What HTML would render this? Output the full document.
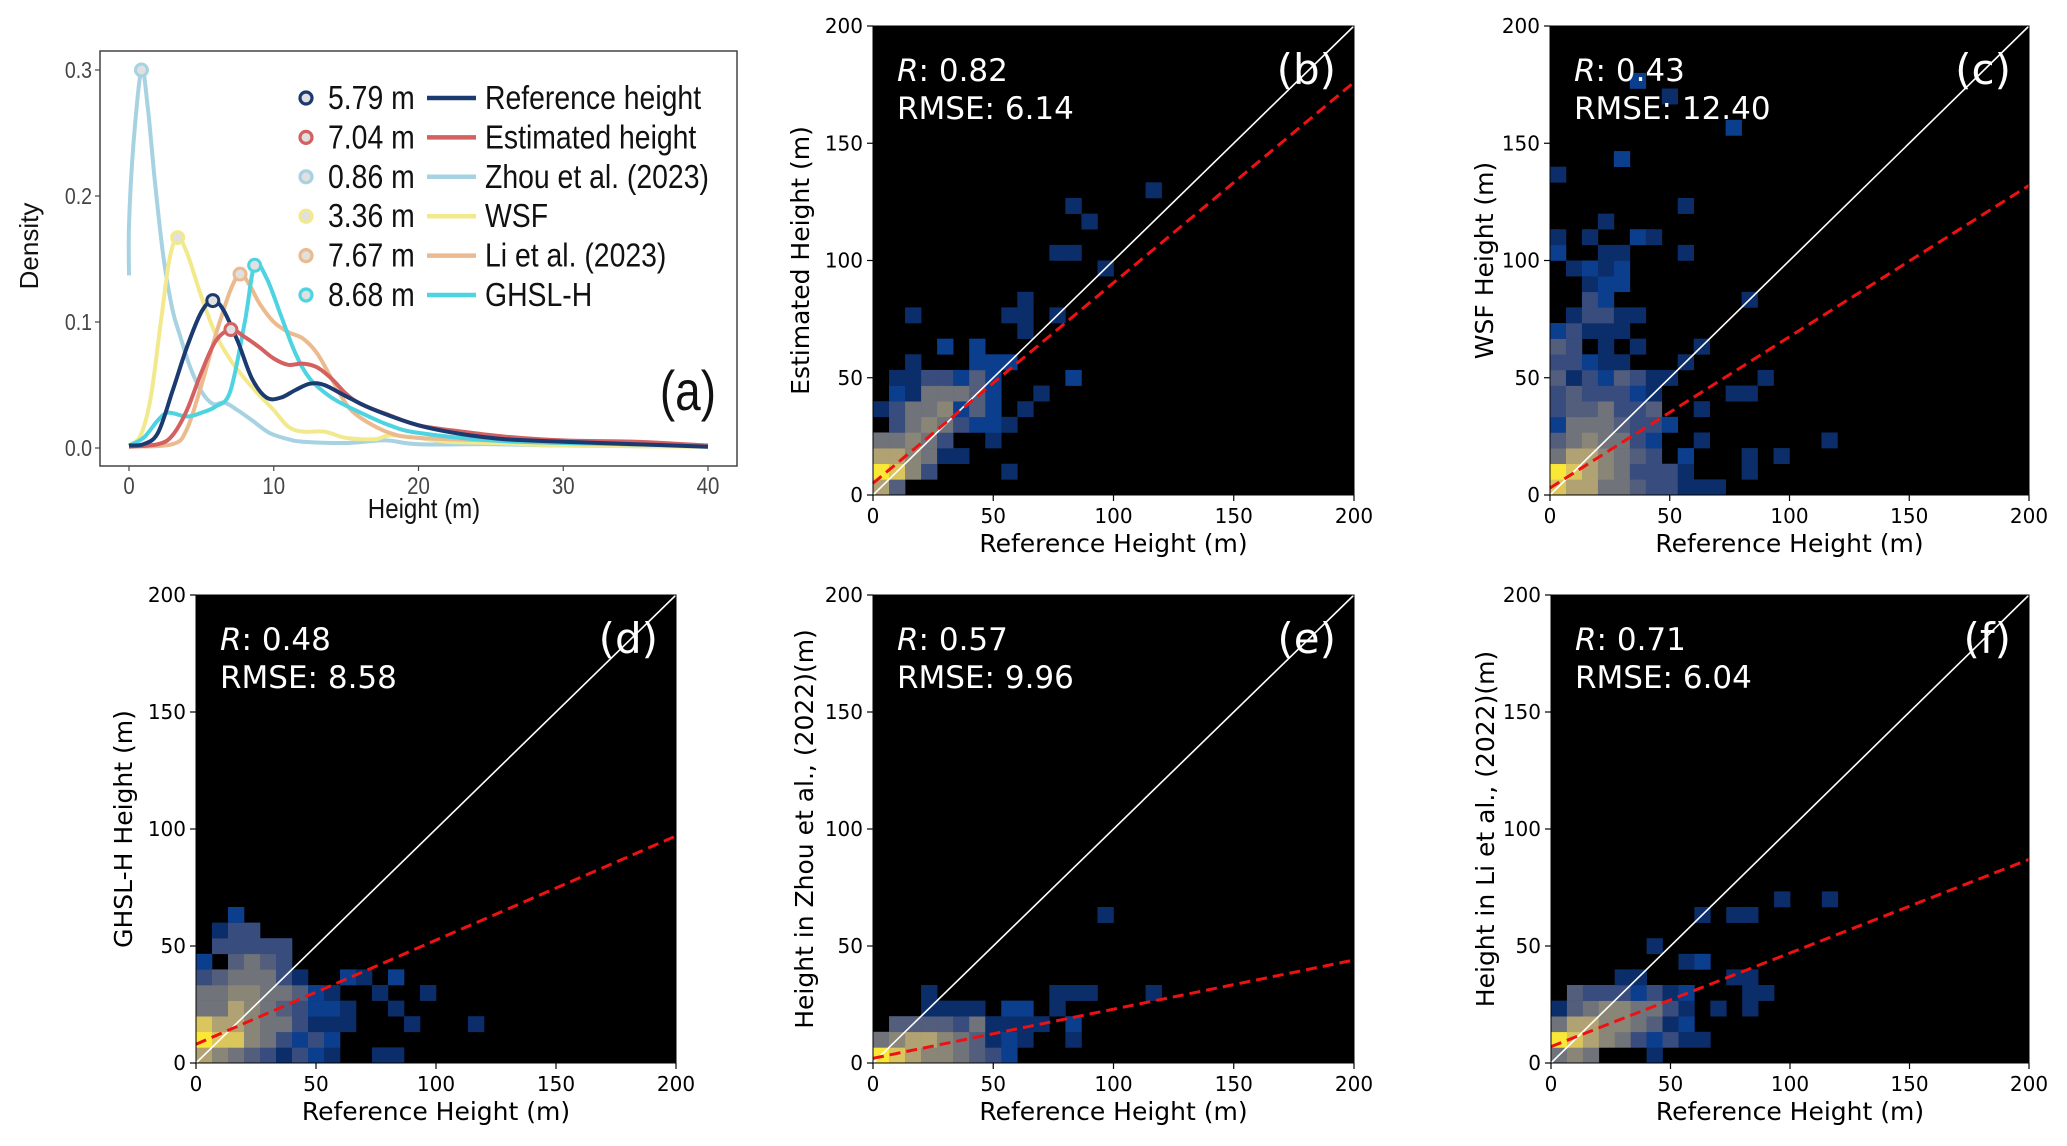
<!DOCTYPE html>
<html><head><meta charset="utf-8"><style>
html,body{margin:0;padding:0;background:#fff;}
svg{display:block;}
.mpl{font-family:"DejaVu Sans","Liberation Sans",sans-serif;}
.narrow{font-family:"Liberation Sans",sans-serif;}
</style></head><body>
<svg id="fig" width="2067" height="1146" viewBox="0 0 2067 1146" xmlns="http://www.w3.org/2000/svg"></svg>
<script>
// ---------- Panel (a) density data ----------
const refX = [0,1,2,3,4,5,5.79,6.5,7.5,8.5,9.5,10.5,11.5,12.5,13.5,15,17,20,23,26,30,35,40];
const refY = [0.002,0.003,0.012,0.045,0.08,0.108,0.117,0.11,0.085,0.055,0.04,0.04,0.046,0.051,0.05,0.041,0.03,0.018,0.011,0.007,0.005,0.003,0.001];
const estX = [0,2,3,4,5,6,7.04,8,9,10,11,12,13,14,15,16,18,20,23,26,30,35,40];
const estY = [0.001,0.003,0.01,0.03,0.06,0.085,0.094,0.088,0.08,0.071,0.066,0.067,0.064,0.055,0.043,0.035,0.026,0.018,0.013,0.009,0.006,0.005,0.002];
const zhouX = [0,0,0.3,0.86,1.3,1.8,2.4,3,3.5,4.2,5,5.8,6.6,7.5,8.5,9.7,11,12,15,17.7,20,25,30,40];
const zhouY = [0.137,0.177,0.24,0.3,0.27,0.21,0.15,0.11,0.09,0.065,0.045,0.035,0.036,0.03,0.022,0.012,0.007,0.005,0.004,0.006,0.003,0.003,0.002,0.001];
const wsfX = [0,0.8,1.5,2.2,2.8,3.36,4,5,6,7,8,9,10,11,12,13.5,15,17,18,20,22,25,30,40];
const wsfY = [0.002,0.01,0.04,0.1,0.15,0.167,0.155,0.12,0.09,0.07,0.055,0.042,0.03,0.017,0.013,0.013,0.008,0.007,0.01,0.008,0.005,0.004,0.002,0.001];
const liX = [0,3,4,5,6,7,7.67,8.3,9,10,11,12,13,14,15,16,18,20,25,30,40];
const liY = [0.001,0.003,0.015,0.05,0.09,0.125,0.138,0.13,0.115,0.1,0.092,0.087,0.075,0.055,0.035,0.024,0.012,0.008,0.006,0.004,0.002];
const ghslX = [0,1,2,2.7,4,5,6,7,8,8.68,9.5,10.5,11.5,12.5,14,16,18,20,25,30,40];
const ghslY = [0.002,0.008,0.022,0.028,0.025,0.028,0.033,0.045,0.1,0.145,0.135,0.105,0.075,0.055,0.04,0.028,0.018,0.012,0.006,0.004,0.002];
const peakX = [5.79,7.04,0.86,3.36,7.67,8.68];
const peakY = [0.117,0.094,0.3,0.167,0.138,0.145];
const peakLabels = ["5.79 m","7.04 m","0.86 m","3.36 m","7.67 m","8.68 m"];
const seriesNames = ["Reference height","Estimated height","Zhou et al. (2023)","WSF","Li et al. (2023)","GHSL-H"];
const densTicksX = [0,10,20,30,40];
const densTicksY = [0,0.1,0.2,0.3];

// ---------- Scatter panels data (2D histogram bins: [col,row,density 0-1], bin = 200/30) ----------
const N=0.05,B=0.15,BG=0.3,GB=0.38,G=0.48,GT=0.58,T=0.72,Y=0.86,YY=1;
const cellsB = [[0,0,T],[1,0,GB],
 [0,1,YY],[1,1,Y],[2,1,GT],[3,1,BG],[8,1,N],
 [0,2,T],[1,2,T],[2,2,GT],[3,2,G],[4,2,N],[5,2,N],
 [0,3,G],[1,3,G],[2,3,GT],[3,3,G],[4,3,BG],[7,3,N],
 [1,4,BG],[2,4,G],[3,4,GT],[4,4,G],[5,4,BG],[6,4,B],[7,4,B],[8,4,N],
 [0,5,N],[1,5,BG],[2,5,G],[3,5,G],[4,5,GT],[5,5,B],[6,5,GB],[7,5,B],[9,5,N],
 [1,6,B],[2,6,N],[3,6,G],[4,6,G],[5,6,G],[6,6,GB],[7,6,B],[10,6,N],
 [1,7,N],[2,7,N],[3,7,BG],[4,7,BG],[5,7,B],[6,7,GB],[7,7,B],[12,7,B],
 [2,8,N],[6,8,B],[7,8,B],[8,8,B],[4,9,B],[6,9,B],[9,10,N],
 [2,11,N],[8,11,N],[9,11,N],[11,11,N],[9,12,N],[14,14,N],[11,15,N],[12,15,N],[13,17,N],[12,18,N],[17,19,N]];
const cellsC = [[0,0,Y],[1,0,T],[2,0,T],[3,0,G],[4,0,G],[5,0,GB],[6,0,BG],[7,0,BG],[8,0,N],[9,0,N],[10,0,N],
 [0,1,YY],[1,1,Y],[2,1,T],[3,1,GT],[4,1,G],[5,1,BG],[6,1,BG],[7,1,BG],[8,1,N],[12,1,N],
 [0,2,G],[1,2,T],[2,2,T],[3,2,GT],[4,2,G],[5,2,GB],[6,2,BG],[8,2,B],[12,2,N],[14,2,N],
 [0,3,GB],[1,3,G],[2,3,GT],[3,3,G],[4,3,G],[5,3,BG],[6,3,B],[9,3,N],[17,3,N],
 [0,4,B],[1,4,G],[2,4,G],[3,4,G],[4,4,GB],[5,4,BG],[6,4,BG],[7,4,B],
 [0,5,BG],[1,5,GB],[2,5,GB],[3,5,G],[4,5,BG],[5,5,BG],[6,5,GB],[9,5,N],
 [0,6,BG],[1,6,GB],[2,6,BG],[3,6,BG],[4,6,BG],[5,6,B],[6,6,N],[11,6,N],[12,6,N],
 [0,7,GB],[1,7,N],[2,7,BG],[3,7,B],[4,7,GB],[5,7,BG],[6,7,N],[7,7,N],[13,7,N],
 [0,8,BG],[1,8,BG],[2,8,B],[3,8,N],[4,8,N],[8,8,N],
 [0,9,GB],[1,9,BG],[3,9,N],[5,9,N],[9,9,N],
 [0,10,B],[1,10,BG],[2,10,N],[3,10,N],[4,10,N],
 [1,11,N],[2,11,BG],[3,11,BG],[4,11,N],[5,11,N],
 [2,12,BG],[3,12,B],[12,12,N],[2,13,N],[3,13,B],[4,13,B],
 [1,14,N],[2,14,B],[3,14,N],[4,14,B],[0,15,B],[3,15,N],[4,15,N],[8,15,N],
 [0,16,N],[2,16,N],[5,16,B],[6,16,N],[3,17,N],[8,18,N],[0,20,N],[4,21,B],[11,23,B],[7,25,N],[5,26,B]];
const cellsD = [[0,0,T],[1,0,GT],[2,0,G],[3,0,GB],[4,0,BG],[5,0,N],[6,0,BG],[7,0,B],[8,0,N],[11,0,N],[12,0,N],
 [0,1,YY],[1,1,Y],[2,1,Y],[3,1,GT],[4,1,G],[5,1,BG],[6,1,B],[7,1,BG],[8,1,B],
 [0,2,Y],[1,2,T],[2,2,T],[3,2,GT],[4,2,G],[5,2,G],[6,2,BG],[7,2,N],[8,2,N],[9,2,N],[13,2,N],[17,2,N],
 [0,3,G],[1,3,G],[2,3,T],[3,3,GT],[4,3,G],[5,3,GB],[6,3,BG],[7,3,B],[8,3,B],[9,3,N],[12,3,N],
 [0,4,G],[1,4,G],[2,4,GT],[3,4,GT],[4,4,G],[5,4,G],[6,4,GB],[7,4,B],[8,4,N],[11,4,N],[14,4,N],
 [0,5,BG],[1,5,GB],[2,5,G],[3,5,G],[4,5,G],[5,5,BG],[6,5,N],[9,5,B],[10,5,N],[12,5,B],
 [0,6,B],[2,6,GB],[3,6,G],[4,6,GB],[5,6,BG],
 [1,7,BG],[2,7,BG],[3,7,BG],[4,7,BG],[5,7,BG],[1,8,N],[2,8,BG],[3,8,BG],[2,9,B]];
const cellsE = [[0,0,YY],[1,0,Y],[2,0,T],[3,0,GT],[4,0,GT],[5,0,G],[6,0,GB],[7,0,BG],[8,0,B],
 [0,1,G],[1,1,GT],[2,1,T],[3,1,T],[4,1,GT],[5,1,G],[6,1,GB],[7,1,N],[8,1,B],[9,1,N],[12,1,N],
 [1,2,GB],[2,2,GB],[3,2,GB],[4,2,GB],[5,2,BG],[6,2,G],[7,2,N],[8,2,N],[9,2,N],[10,2,N],[12,2,B],
 [3,3,N],[4,3,N],[5,3,N],[6,3,N],[8,3,B],[9,3,B],[11,3,N],
 [3,4,N],[11,4,N],[12,4,N],[13,4,N],[17,4,N],[14,9,N]];
const cellsF = [[0,0,G],[1,0,GT],[2,0,G],[6,0,N],
 [0,1,YY],[1,1,Y],[2,1,T],[3,1,GT],[4,1,G],[5,1,BG],[6,1,B],[7,1,BG],[8,1,N],[9,1,N],
 [0,2,G],[1,2,T],[2,2,T],[3,2,GT],[4,2,GT],[5,2,G],[6,2,GB],[7,2,N],[8,2,B],
 [0,3,N],[1,3,GB],[2,3,G],[3,3,GT],[4,3,GT],[5,3,G],[6,3,G],[7,3,BG],[8,3,N],[10,3,N],[12,3,N],
 [1,4,GB],[2,4,BG],[3,4,BG],[4,4,BG],[5,4,B],[6,4,BG],[7,4,N],[8,4,B],[12,4,N],[13,4,N],
 [4,5,N],[5,5,N],[11,5,N],[12,5,N],[8,6,N],[9,6,B],[6,7,N],[9,9,N],[11,9,N],[12,9,N],[14,10,N],[17,10,N]];
const panelLetters = ["(b)","(c)","(d)","(e)","(f)"];
const rValues = ["0.82","0.43","0.48","0.57","0.71"];
const rmseValues = ["6.14","12.40","8.58","9.96","6.04"];
const fitIntercepts = [5,3,8,2,7];
const fitAt200 = [176,132,97,44,87];
const yLabels = ["Estimated Height (m)","WSF Height (m)","GHSL-H Height (m)","Height in Zhou et al., (2022)(m)","Height in Li et al., (2022)(m)"];
const scatterTicks = [0,50,100,150,200];

// ---------- drawing ----------
const NS="http://www.w3.org/2000/svg";
const svg=document.getElementById('fig');
function el(tag,attrs,parent,text){const e=document.createElementNS(NS,tag);for(const k in attrs)e.setAttribute(k,attrs[k]);if(text!==undefined)e.textContent=text;(parent||svg).appendChild(e);return e;}
function ntext(x,y,anchor,size,fill,str,parent,sc){
  return el('text',{x:0,y:0,'text-anchor':anchor,'font-size':size,fill:fill,class:'narrow',transform:'translate('+x+','+y+') scale('+(sc||0.8)+',1)'},parent,str);
}
function smoothPath(xs,ys,fx,fy){
  const P=xs.map((x,i)=>[fx(x),fy(ys[i])]);
  let d='M'+P[0][0].toFixed(1)+' '+P[0][1].toFixed(1);
  for(let i=0;i<P.length-1;i++){
    const p0=P[Math.max(0,i-1)],p1=P[i],p2=P[i+1],p3=P[Math.min(P.length-1,i+2)];
    const c1=[p1[0]+(p2[0]-p0[0])/6,p1[1]+(p2[1]-p0[1])/6];
    const c2=[p2[0]-(p3[0]-p1[0])/6,p2[1]-(p3[1]-p1[1])/6];
    d+=' C'+c1[0].toFixed(1)+' '+c1[1].toFixed(1)+' '+c2[0].toFixed(1)+' '+c2[1].toFixed(1)+' '+p2[0].toFixed(1)+' '+p2[1].toFixed(1);
  }
  return d;
}

// Panel (a)
const ga=el('g',{});


const A={l:100,r:737,t:51,b:466,x0:129,x1:708,y0:448,y1:70};
const ax=v=>A.x0+(v/40)*(A.x1-A.x0);
const ay=v=>A.y0-(v/0.3)*(A.y0-A.y1);
const frame=el('rect',{x:A.l,y:A.t,width:A.r-A.l,height:A.b-A.t,fill:'#fff',stroke:'#444','stroke-width':1.5},ga);


densTicksX.forEach(t=>{
  el('line',{x1:ax(t),x2:ax(t),y1:A.b,y2:A.b+5,stroke:'#444','stroke-width':1.2},ga);
  const tx=ntext(ax(t),A.b+28,'middle',24,'#444',String(t),ga,0.85);
  
  
});
densTicksY.forEach(t=>{
  el('line',{x1:A.l-5,x2:A.l,y1:ay(t),y2:ay(t),stroke:'#444','stroke-width':1.2},ga);
  const tx=ntext(A.l-8,ay(t)+8,'end',23,'#444',t.toFixed(1),ga,0.85);
  
  
});
const xt=ntext(424,518,'middle',28,'#111','Height (m)',ga,0.86);


const yt=el('text',{x:0,y:0,'text-anchor':'middle','font-size':26,fill:'#111',class:'narrow',transform:'translate(38,246) rotate(-90)'},ga,'Density');


const colors=['#1b3a70','#d46161','#a6d2e2','#f2e98c','#ebba8f','#4ed3e1'];
const allX=[refX,estX,zhouX,wsfX,liX,ghslX], allY=[refY,estY,zhouY,wsfY,liY,ghslY];
const drawOrder=[2,3,4,5,1,0];
drawOrder.forEach(i=>{
  const d=smoothPath(allX[i],allY[i],ax,ay);
  const p=el('path',{d:d,fill:'none',stroke:colors[i],'stroke-width':4,'stroke-linejoin':'round'},ga);
  
  
});
peakX.forEach((x,i)=>{
  const c=el('circle',{cx:ax(x),cy:ay(peakY[i]),r:6,fill:'#e0e0e0',stroke:colors[i],'stroke-width':3},ga);
  
  
});
// legend
peakLabels.forEach((lab,i)=>{
  const yy=98+i*39.4;
  const g=el('g',{},ga);
  
  
  el('circle',{cx:306,cy:yy,r:6,fill:'#e0e0e0',stroke:colors[i],'stroke-width':3.2},g);
  ntext(328,yy+11,'start',33,'#111',lab,g,0.86);
  el('line',{x1:427,x2:476,y1:yy,y2:yy,stroke:colors[i],'stroke-width':4.5},g);
  ntext(485,yy+11,'start',33,'#111',seriesNames[i],g,0.86);
});
const la=ntext(716,410,'end',56,'#111','(a)',ga,0.82);



// colormap
const cmapStops=[[0,[10,38,88]],[0.15,[12,62,142]],[0.3,[56,76,126]],[0.45,[104,109,122]],[0.6,[142,138,120]],[0.75,[184,168,112]],[0.88,[224,204,88]],[1,[251,232,54]]];
function cmap(v){for(let i=1;i<cmapStops.length;i++){if(v<=cmapStops[i][0]){const a=cmapStops[i-1],b=cmapStops[i];const t=(v-a[0])/(b[0]-a[0]);const c=a[1].map((x,k)=>Math.round(x+(b[1][k]-x)*t));return 'rgb('+c.join(',')+')';}}return 'rgb(251,232,54)';}

// scatter panels
const panels=[
 {x0:873,x1:1354,y0:495,y1:26,cells:cellsB,labX:800},
 {x0:1550,x1:2029,y0:495,y1:26,cells:cellsC,labX:1484},
 {x0:196,x1:676,y0:1063,y1:595,cells:cellsD,labX:123},
 {x0:873,x1:1354,y0:1063,y1:595,cells:cellsE,labX:804},
 {x0:1551,x1:2029,y0:1063,y1:595,cells:cellsF,labX:1485}
];
const names=['b','c','d','e','f'];
const binW=200/30;
panels.forEach((P,pi)=>{
  const g=el('g',{});
  
  
  const sx=v=>P.x0+(v/200)*(P.x1-P.x0);
  const sy=v=>P.y0-(v/200)*(P.y0-P.y1);
  const bg=el('rect',{x:P.x0,y:P.y1,width:P.x1-P.x0,height:P.y0-P.y1,fill:'#000'},g);
  
  
  P.cells.forEach(c=>{
    const x=sx(c[0]*binW), x2=sx((c[0]+1)*binW), y=sy((c[1]+1)*binW), y2=sy(c[1]*binW);
    const r=el('rect',{x:x.toFixed(2),y:y.toFixed(2),width:(x2-x+0.3).toFixed(2),height:(y2-y+0.3).toFixed(2),fill:cmap(c[2])},g);
    
    
  });
  const one=el('line',{x1:sx(0),y1:sy(0),x2:sx(200),y2:sy(200),stroke:'#fff','stroke-width':1.6},g);
  
  
  const fit=el('line',{x1:sx(0),y1:sy(fitIntercepts[pi]),x2:sx(200),y2:sy(fitAt200[pi]),stroke:'#ee1111','stroke-width':3,'stroke-dasharray':'11 6'},g);
  
  
  el('rect',{x:P.x0,y:P.y1,width:P.x1-P.x0,height:P.y0-P.y1,fill:'none',stroke:'#000','stroke-width':1},g);
  scatterTicks.forEach(t=>{
    el('line',{x1:sx(t),x2:sx(t),y1:P.y0,y2:P.y0+6,stroke:'#000','stroke-width':1.2},g);
    const a=el('text',{x:sx(t),y:P.y0+28,'text-anchor':'middle','font-size':20,fill:'#000',class:'mpl'},g,String(t));
    
    
    el('line',{x1:P.x0-6,x2:P.x0,y1:sy(t),y2:sy(t),stroke:'#000','stroke-width':1.2},g);
    const b=el('text',{x:P.x0-10,y:sy(t)+7,'text-anchor':'end','font-size':20,fill:'#000',class:'mpl'},g,String(t));
    
    
  });
  const xl=el('text',{x:(P.x0+P.x1)/2,y:P.y0+57,'text-anchor':'middle','font-size':25,fill:'#000',class:'mpl'},g,'Reference Height (m)');
  
  
  const yl=el('text',{x:0,y:0,'text-anchor':'middle','font-size':25,fill:'#000',class:'mpl',transform:'translate('+(P.labX+9)+','+((P.y0+P.y1)/2)+') rotate(-90)'},g,yLabels[pi]);
  
  
  const rt=el('text',{x:P.x0+24,y:P.y1+55,'font-size':31,fill:'#fff',class:'mpl'},g);
  
  
  el('tspan',{'font-style':'italic'},rt,'R');
  el('tspan',{},rt,': '+rValues[pi]);
  const mt=el('text',{x:P.x0+24,y:P.y1+93,'font-size':31,fill:'#fff',class:'mpl'},g,'RMSE: '+rmseValues[pi]);
  
  
  const pl=el('text',{x:P.x1-18,y:P.y1+58,'text-anchor':'end','font-size':42,fill:'#fff',class:'mpl'},g,panelLetters[pi]);
  
  
});
</script>
</body></html>
